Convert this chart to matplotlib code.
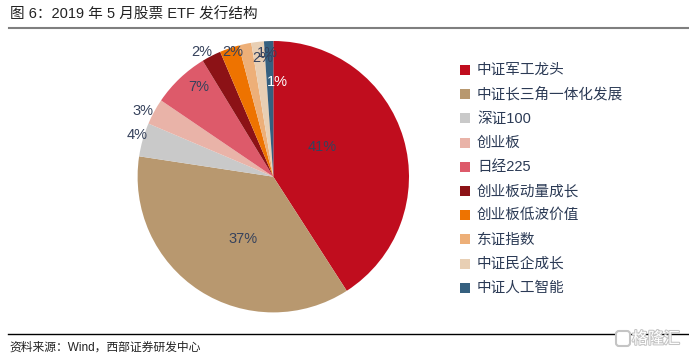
import matplotlib

matplotlib.use("Agg")
import matplotlib.pyplot as plt
import matplotlib.patheffects as pe
from matplotlib.patches import FancyBboxPatch

plt.rcParams["font.family"] = ["Liberation Sans", "Noto Sans CJK SC", "DejaVu Sans"]

TITLE = "图 6\uff1a2019 年 5 月股票 ETF 发行结构"
SOURCE = "资料来源\uff1aWind\uff0c西部证券研发中心"
WATERMARK = "格隆汇"
CATEGORIES = ["中证军工龙头", "中证长三角一体化发展", "深证100", "创业板", "日经225",
              "创业板动量成长", "创业板低波价值", "东证指数", "中证民企成长", "中证人工智能"]
VALUES = [40.9, 36.5, 4.0, 3.1, 6.8, 2.3, 2.3, 1.5, 1.5, 1.1]
LABELS = ["41%", "37%", "4%", "3%", "7%", "2%", "2%", "2%", "1%", "1%"]
COLORS = ["#c00d1e", "#b8986f", "#c9c9c9", "#e9b3a8", "#dd5a6a",
          "#8c1216", "#ee7300", "#edaf78", "#e8cfb4", "#35607f"]
LABEL_COLOR = "#36425c"

W, H = 689, 356
fig = plt.figure(figsize=(W / 100, H / 100), dpi=100)

# pie placed in pixel coordinates
cx, cy, r = 273.3, 176.7, 135.7
ax = fig.add_axes([(cx - r) / W, 1 - (cy + r) / H, 2 * r / W, 2 * r / H])
ax.pie(VALUES, colors=COLORS, startangle=90, counterclock=False, radius=1)
ax.set_xlim(-1, 1)
ax.set_ylim(-1, 1)

overlay = fig.add_axes([0, 0, 1, 1])
overlay.set_xlim(0, W)
overlay.set_ylim(H, 0)
overlay.axis("off")

# label positions in pixels, the small slices overlap in the original
label_pos = [(322, 147), (243, 239), (137, 135), (143, 111), (199, 87),
             (202, 52), (233, 52), (263, 58), (267, 53), (277, 82)]
for i, (text, (x, y)) in enumerate(zip(LABELS, label_pos)):
    color = "white" if i == 9 else LABEL_COLOR
    overlay.text(x, y, text, ha="center", va="center", fontsize=10.5, color=color)

# legend drawn by hand to keep spacing of the original
for i, (name, color) in enumerate(zip(CATEGORIES, COLORS)):
    y = 70 + i * 24.2
    overlay.fill_between([460, 470], y - 5, y + 5, color=color, lw=0)
    overlay.text(477, y, name, ha="left", va="center", fontsize=10.5, color="#2b3a55")

overlay.text(10, 14, TITLE, ha="left", va="center", fontsize=10.5, color="#222222")
overlay.plot([9, 689], [28, 28], color="#7f7f7f", lw=1.5)
overlay.plot([8, 689], [334, 334], color="black", lw=1)
overlay.text(9, 348, SOURCE, ha="left", va="center", fontsize=8.5, color="#222222")

# watermark bottom right
overlay.add_patch(FancyBboxPatch((617, 332), 12, 13, boxstyle="round,pad=1,rounding_size=3",
                                 fc="white", ec="#c4c4c4", lw=1.5, zorder=3))
overlay.text(632, 339, WATERMARK, ha="left", va="center", fontsize=11.5, color="white", zorder=3,
             path_effects=[pe.withStroke(linewidth=1.5, foreground="#c4c4c4")])

fig.savefig("out.png", dpi=100)
plt.close(fig)
